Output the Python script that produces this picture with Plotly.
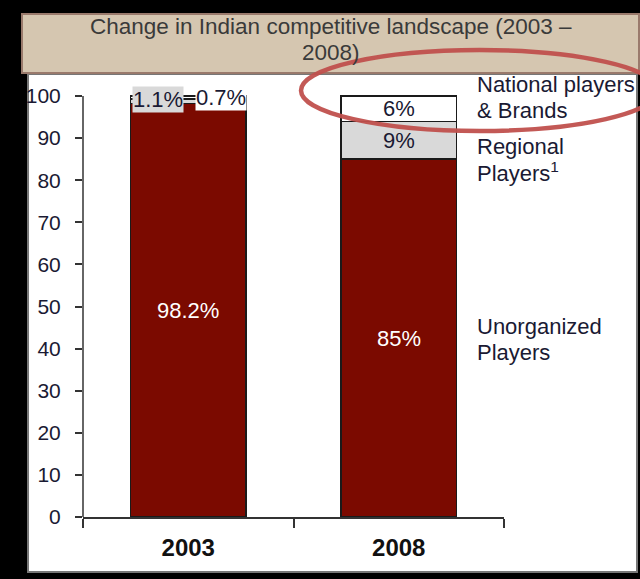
import plotly.graph_objects as go

years = ["2003", "2008"]
unorganized = [98.2, 85]
regional = [1.1, 9]
national = [0.7, 6]
seg_lines = [["Unorganized", "Players"], ["Regional", "Players<sup>1</sup>"], ["National players", "& Brands"]]
y_ticks = [0, 10, 20, 30, 40, 50, 60, 70, 80, 90, 100]
title_lines = ["Change in Indian competitive landscape (2003 \u2013", "2008)"]

FONT = "Liberation Sans, Arial, sans-serif"
TXT = "#1a1a33"
RED = "#7b0a00"
GRAY = "#d9d9d9"

# plot area in pixels
L, R_, T, B = 83, 136, 75, 62
W, H = 640, 579
PW = W - L - R_
PH = H - T - B

def px(x):
    return (x - L) / PW

def py(y):
    return (H - B - y) / PH

fig = go.Figure()

def fmt(v):
    return f"{v:g}%"

series = [
    (unorganized, RED, "white"),
    (regional, GRAY, TXT),
    (national, "white", TXT),
]
for vals, col, tcol in series:
    fig.add_trace(go.Bar(
        x=years, y=vals, marker=dict(color=col, line=dict(color="#1a1a1a", width=1.5)),
        width=0.55, showlegend=False,
    ))

annotations = []
# labels centred in the segments that are tall enough
for i in range(len(years)):
    base = 0
    for vals, col, tcol in series:
        v = vals[i]
        if v >= 5:
            annotations.append(dict(x=i, y=base + v / 2, xref="x", yref="y", text=fmt(v),
                                    showarrow=False, font=dict(family=FONT, size=22, color=tcol)))
        base += v

# small 2003 labels placed above the bar
annotations.append(dict(x=-0.143, y=99.2, xref="x", yref="y", text=fmt(regional[0]),
                        showarrow=False, bgcolor=GRAY, borderpad=0,
                        font=dict(family=FONT, size=22, color=TXT)))
annotations.append(dict(x=0.155, y=99.6, xref="x", yref="y", text=fmt(national[0]),
                        showarrow=False, bgcolor="white", borderpad=0,
                        font=dict(family=FONT, size=22, color=TXT)))

# segment labels on right (one annotation per line)
seg_px = [(326, 352), (146, 172), (84, 110)]
for lines, ys in zip(seg_lines, seg_px):
    for line, yy in zip(lines, ys):
        annotations.append(dict(x=px(475), y=py(yy), xref="paper", yref="paper", text=line,
                                xanchor="left", yanchor="middle", showarrow=False,
                                font=dict(family=FONT, size=22, color=TXT)))

# title lines
for line, yy in zip(title_lines, [27, 53]):
    annotations.append(dict(x=px(331), y=py(yy), xref="paper", yref="paper", text=line,
                            showarrow=False, xanchor="center", yanchor="middle",
                            font=dict(family=FONT, size=22.5, color="#3a3a3a")))

shapes = [
    # white panel
    dict(type="rect", xref="paper", yref="paper", x0=px(28), x1=px(637), y0=py(572), y1=py(74),
         fillcolor="white", line=dict(color="#777777", width=2), layer="below"),
    # title box
    dict(type="rect", xref="paper", yref="paper", x0=px(22), x1=px(639), y0=py(73), y1=py(14),
         fillcolor="#d5c6b0", line=dict(color="#9a7a6c", width=2), layer="below"),
    # y axis line
    dict(type="line", xref="paper", yref="y", x0=0, x1=0, y0=0, y1=100,
         line=dict(color="#333333", width=1.5)),
    # highlight ellipse
    dict(type="circle", xref="paper", yref="paper", x0=px(301), x1=px(658), y0=py(131), y1=py(50),
         line=dict(color="rgba(192,80,77,0.95)", width=4.5), fillcolor="rgba(0,0,0,0)", layer="above"),
]

fig.update_layout(
    width=W, height=H, margin=dict(l=L, r=R_, t=T, b=B),
    paper_bgcolor="black", plot_bgcolor="rgba(0,0,0,0)",
    barmode="stack", bargap=0.45,
    annotations=annotations, shapes=shapes,
    xaxis=dict(type="category", range=[-0.5, 1.5], showline=True, linecolor="#333333", linewidth=1.5,
               ticks="outside", tickson="boundaries", ticklen=9, tickcolor="#333333", tickwidth=1.5,
               tickfont=dict(family=FONT, size=24, color="#111111", weight="bold"),
               ticklabelstandoff=8, showgrid=False, zeroline=False),
    yaxis=dict(range=[0, 105], tickvals=y_ticks, showline=False, ticks="outside", ticklen=7,
               tickcolor="#333333", tickwidth=1.5, showgrid=False, zeroline=False,
               tickfont=dict(family=FONT, size=21, color=TXT), ticklabelstandoff=10),
    font=dict(family=FONT),
)

fig.write_html("out.html")
